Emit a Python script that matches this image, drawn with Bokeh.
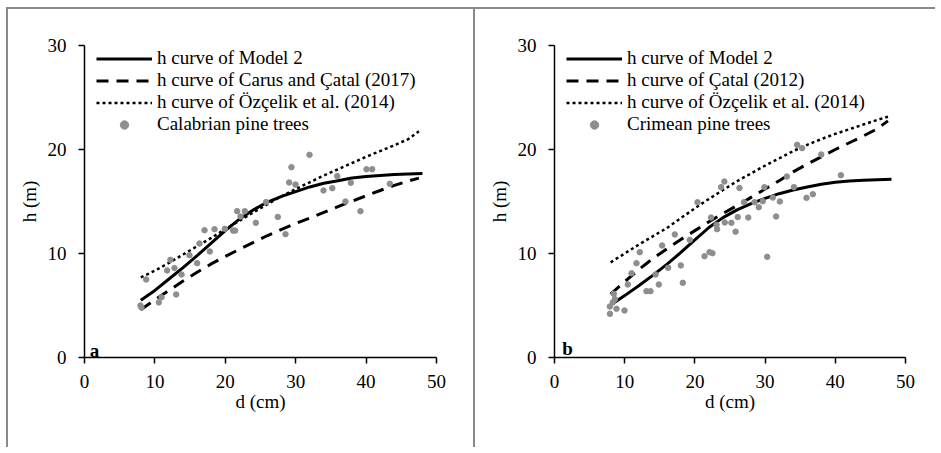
from bokeh.plotting import figure
from bokeh.layouts import row
from bokeh.models import Range1d, Label, FixedTicker
from bokeh.embed import file_html
from bokeh.resources import INLINE

FONT = "Liberation Serif"

# ---------------- Panel a: Calabrian pine ----------------
a_tree_d = [7.95, 8.1, 8.76, 10.56, 10.94, 11.74, 12.2, 12.78, 13.02, 13.78, 14.91, 16.0, 16.33,
            17.05, 17.8, 18.47, 19.93, 21.1, 21.4, 21.68, 22.16, 22.77, 24.34, 25.8, 27.46, 28.55,
            29.07, 29.4, 29.97, 31.96, 33.95, 35.2, 35.9, 37.07, 37.83, 39.2, 40.06, 40.86, 43.37]
a_tree_h = [5.0, 4.8, 7.5, 5.3, 5.8, 8.37, 9.39, 8.6, 6.06, 7.98, 9.84, 9.07, 10.96,
            12.24, 10.19, 12.34, 12.37, 12.2, 12.2, 14.07, 13.56, 14.07, 12.95, 14.94, 13.52, 11.86,
            16.83, 18.3, 16.63, 19.49, 16.06, 16.28, 17.44, 15.0, 16.8, 14.07, 18.1, 18.1, 16.7]

model_d = [8, 10, 12, 14, 16, 18, 20, 22, 24, 26, 28, 30, 32, 34, 36, 38, 40, 42, 44, 46, 48]
lit_d = [8, 10, 12, 14, 16, 18, 20, 22, 24, 26, 28, 30, 32, 34, 36, 38, 40, 42, 44, 46, 47.5]

a_model2_h = [5.5, 6.45, 7.55, 8.65, 9.8, 11.0, 12.2, 13.3, 14.2, 14.95, 15.5, 15.95, 16.4,
              16.75, 17.0, 17.25, 17.4, 17.5, 17.6, 17.65, 17.7]
a_carus_h = [4.6, 5.55, 6.45, 7.35, 8.2, 9.0, 9.72, 10.4, 11.07, 11.73, 12.33, 12.9, 13.4,
             13.95, 14.5, 15.03, 15.55, 16.06, 16.55, 16.97, 17.25]
a_ozcelik_h = [7.7, 8.35, 9.1, 9.9, 10.7, 11.5, 12.35, 13.15, 13.95, 14.75, 15.5, 16.2, 16.85,
               17.5, 18.1, 18.7, 19.3, 19.85, 20.4, 21.0, 21.75]

# ---------------- Panel b: Crimean pine ----------------
b_tree_d = [7.88, 7.9, 8.45, 8.3, 8.6, 8.83, 9.97, 10.44, 10.97, 11.68, 12.15, 13.1, 13.67, 14.39,
            14.86, 15.33, 16.18, 17.14, 18.0, 18.28, 19.27, 20.37, 21.37, 22.08, 22.5, 22.3, 23.08,
            23.16, 23.73, 24.2, 24.26, 25.2, 25.8, 26.1, 26.35, 27.0, 27.6, 28.5, 29.1, 29.67, 29.9,
            30.3, 31.1, 31.57, 32.1, 33.1, 34.1, 34.56, 35.27, 35.9, 36.8, 38.0, 40.8]
b_tree_h = [4.9, 4.2, 6.12, 5.3, 5.6, 4.68, 4.52, 7.02, 8.1, 9.07, 10.13, 6.38, 6.38, 7.98,
            7.02, 10.77, 8.62, 11.83, 8.85, 7.18, 11.31, 14.93, 9.74, 10.13, 10.03, 13.46, 12.76,
            12.34, 16.38, 16.92, 12.98, 12.95, 12.1, 13.5, 16.3, 14.93, 13.46, 14.93, 14.45, 15.03, 16.38,
            9.68, 15.38, 13.56, 15.0, 17.4, 16.38, 20.45, 20.13, 15.35, 15.7, 19.52, 17.53]

b_model2_h = [5.05, 5.95, 6.9, 7.9, 8.95, 10.1, 11.3, 12.5, 13.45, 14.2, 14.8, 15.3, 15.75,
              16.1, 16.4, 16.65, 16.85, 16.98, 17.05, 17.1, 17.15]
b_catal_h = [6.1, 7.3, 8.45, 9.5, 10.45, 11.35, 12.2, 13.05, 13.85, 14.6, 15.4, 16.2, 17.0,
             17.85, 18.6, 19.3, 20.0, 20.65, 21.3, 22.0, 22.75]
b_ozcelik_h = [9.15, 10.0, 10.85, 11.65, 12.45, 13.4, 14.35, 15.25, 16.1, 16.95, 17.7, 18.45, 19.15,
               19.85, 20.45, 21.0, 21.5, 21.95, 22.4, 22.85, 23.15]

x_ticks = [0, 10, 20, 30, 40, 50]
y_ticks = [0, 10, 20, 30]
x_title = "d (cm)"
y_title = "h (m)"

POINT_COLOR = "#8e8e8e"
BORDER = "2px solid #8a8a8a"


def make_panel(width, height, left, right, top, bottom, extra_styles, tree_d, tree_h, model_h,
               lit1_h, lit2_h, labels, letter, letter_x, letter_y):
    styles = {"border-left": BORDER, "border-top": BORDER}
    styles.update(extra_styles)
    p = figure(width=width, height=height, x_range=Range1d(0, 50), y_range=Range1d(0, 30),
               output_backend="svg", toolbar_location=None,
               min_border_left=left, min_border_right=right,
               min_border_top=top, min_border_bottom=bottom,
               background_fill_color="white", border_fill_color="white",
               styles=styles)
    p.outline_line_color = None
    p.grid.visible = False

    p.line(model_d, model_h, line_color="black", line_width=3, legend_label=labels[0])
    p.line(lit_d, lit1_h, line_color="black", line_width=3, line_dash="12 8",
           legend_label=labels[1])
    p.line(lit_d, lit2_h, line_color="black", line_width=2.5, line_dash="3 3",
           legend_label=labels[2])
    p.scatter(tree_d, tree_h, size=5.5, fill_color=POINT_COLOR, line_color=POINT_COLOR,
              legend_label=labels[3])

    for ax, ticks, title in ((p.xaxis, x_ticks, x_title), (p.yaxis, y_ticks, y_title)):
        ax.ticker = FixedTicker(ticks=ticks)
        ax.axis_label = title
        ax.axis_label_text_font = FONT
        ax.axis_label_text_font_size = "19px"
        ax.axis_label_text_font_style = "normal"
        ax.axis_label_text_color = "black"
        ax.major_label_text_font = FONT
        ax.major_label_text_font_size = "19px"
        ax.major_label_text_color = "black"
        ax.axis_line_color = "black"
        ax.axis_line_width = 1.5
        ax.major_tick_line_color = "black"
        ax.major_tick_line_width = 1.5
        ax.major_tick_in = 0
        ax.major_tick_out = 6
        ax.minor_tick_line_color = None
    p.xaxis.major_label_standoff = 11
    p.xaxis.axis_label_standoff = 0
    p.yaxis.major_label_standoff = 12
    p.yaxis.axis_label_standoff = 5

    lg = p.legend[0]
    lg.location = (12, 222)
    lg.padding = 0
    lg.margin = 0
    lg.spacing = 0
    lg.border_line_color = None
    lg.background_fill_alpha = 0
    lg.glyph_width = 56
    lg.glyph_height = 21
    lg.label_height = 21
    lg.label_standoff = 5
    lg.label_text_font = FONT
    lg.label_text_font_size = "19px"
    lg.label_text_color = "black"

    p.add_layout(Label(x=letter_x, y=letter_y, text=letter, text_font=FONT,
                       text_font_size="19px", text_font_style="bold", text_color="black",
                       text_baseline="alphabetic"))
    return p


p1 = make_panel(467, 440, 76, 39, 36, 92, {"margin-left": "6px", "margin-top": "7px"},
                a_tree_d, a_tree_h, a_model2_h, a_carus_h, a_ozcelik_h,
                ["h curve of Model 2", "h curve of Carus and Çatal (2017)",
                 "h curve of Özçelik et al. (2014)", "Calabrian pine trees"],
                "a", 0.75, 0.7)
p2 = make_panel(462, 440, 79, 32, 36, 92, {"margin-top": "7px"},
                b_tree_d, b_tree_h, b_model2_h, b_catal_h, b_ozcelik_h,
                ["h curve of Model 2", "h curve of Çatal (2012)",
                 "h curve of Özçelik et al. (2014)", "Crimean pine trees"],
                "b", 1.1, 0.9)

layout = row(p1, p2)
open("out.html", "w").write(file_html(layout, INLINE))
